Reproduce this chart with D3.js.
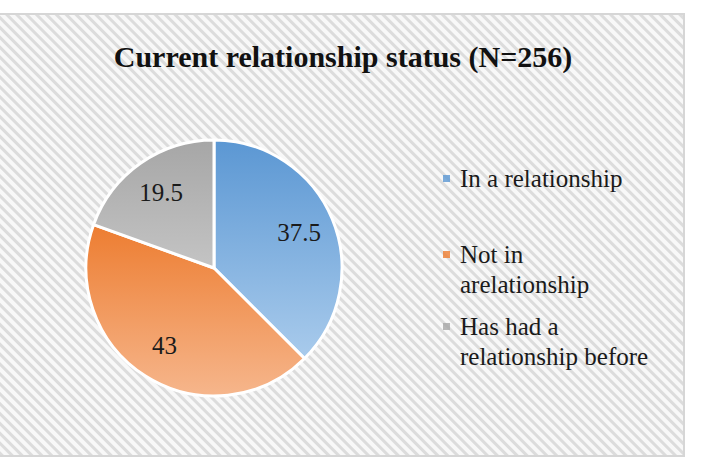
<!DOCTYPE html>
<html>
<head>
<meta charset="utf-8">
<script src="https://cdn.jsdelivr.net/npm/d3@7"></script>
<style>
  body { margin: 0; background: #fff; }
  svg { display: block; }
  text { font-family: "Liberation Serif", "Times New Roman", serif; }
</style>
</head>
<body>
<svg id="chart" width="720" height="466"></svg>
<script>
// chart values
const categories = ["In a relationship", "Not in arelationship", "Has had a relationship before"];
const values = [37.5, 43, 19.5];
const labels = ["37.5", "43", "19.5"];
const legendLines = [["In a relationship"], ["Not in", "arelationship"], ["Has had a", "relationship before"]];
const colorsTop = ["#5b97d3", "#ed7d31", "#a6a6a6"];
const colorsBottom = ["#a9cbec", "#f6b68c", "#c4c4c4"];

const svg = d3.select("#chart");
const defs = svg.append("defs");

// diagonal stripe background
const pattern = defs.append("pattern")
    .attr("id", "stripes")
    .attr("patternUnits", "userSpaceOnUse")
    .attr("width", 7)
    .attr("height", 7)
    .attr("patternTransform", "rotate(-45)");
pattern.append("rect").attr("width", 7).attr("height", 7).attr("fill", "#f8f8f8");
pattern.append("rect").attr("width", 3).attr("height", 7).attr("fill", "#dcdcdc");

svg.append("rect")
    .attr("x", -2).attr("y", 14)
    .attr("width", 686).attr("height", 442)
    .attr("fill", "url(#stripes)")
    .attr("stroke", "#d6d6d6")
    .attr("stroke-width", 2);

svg.append("text")
    .attr("x", 343)
    .attr("y", 67)
    .attr("text-anchor", "middle")
    .style("font-size", "30px")
    .style("font-weight", "bold")
    .attr("fill", "#111")
    .text("Current relationship status (N=256)");

const color = d3.scaleOrdinal().domain(categories).range(d3.range(categories.length));

categories.forEach((c, i) => {
    const g = defs.append("linearGradient")
        .attr("id", "grad" + i)
        .attr("x1", 0).attr("y1", 0).attr("x2", 0).attr("y2", 1);
    g.append("stop").attr("offset", "0%").attr("stop-color", colorsTop[i]);
    g.append("stop").attr("offset", "100%").attr("stop-color", colorsBottom[i]);
});

const cx = 214, cy = 268, r = 128;
const pie = d3.pie().sort(null).value(d => d.value);
const data = pie(categories.map((c, i) => ({ cat: c, value: values[i], label: labels[i] })));
const arc = d3.arc().innerRadius(0).outerRadius(r);
const labelArc = d3.arc().innerRadius(r * 0.72).outerRadius(r * 0.72);

const pg = svg.append("g").attr("transform", `translate(${cx},${cy})`);

pg.selectAll("path")
    .data(data)
    .enter().append("path")
    .attr("d", arc)
    .attr("fill", d => `url(#grad${color(d.data.cat)})`)
    .attr("stroke", "#fff")
    .attr("stroke-width", 3)
    .attr("stroke-linejoin", "round");

pg.selectAll(".lbl")
    .data(data)
    .enter().append("text")
    .attr("class", "lbl")
    .attr("transform", d => `translate(${labelArc.centroid(d)})`)
    .attr("text-anchor", "middle")
    .attr("dy", "0.33em")
    .style("font-size", "25px")
    .attr("fill", "#1a1a1a")
    .text(d => d.data.label);

// legend
const legendY = [187, 263, 335];
const lg = svg.append("g");
categories.forEach((c, i) => {
    lg.append("rect")
        .attr("x", 443).attr("y", legendY[i] - 12)
        .attr("width", 7).attr("height", 7)
        .attr("fill", colorsTop[i])
        .attr("opacity", 0.8);
    const t = lg.append("text")
        .attr("x", 460).attr("y", legendY[i])
        .style("font-size", "25px")
        .attr("fill", "#1a1a1a");
    legendLines[i].forEach((line, j) => {
        t.append("tspan").attr("x", 460).attr("dy", j === 0 ? 0 : 30).text(line);
    });
});
</script>
</body>
</html>
